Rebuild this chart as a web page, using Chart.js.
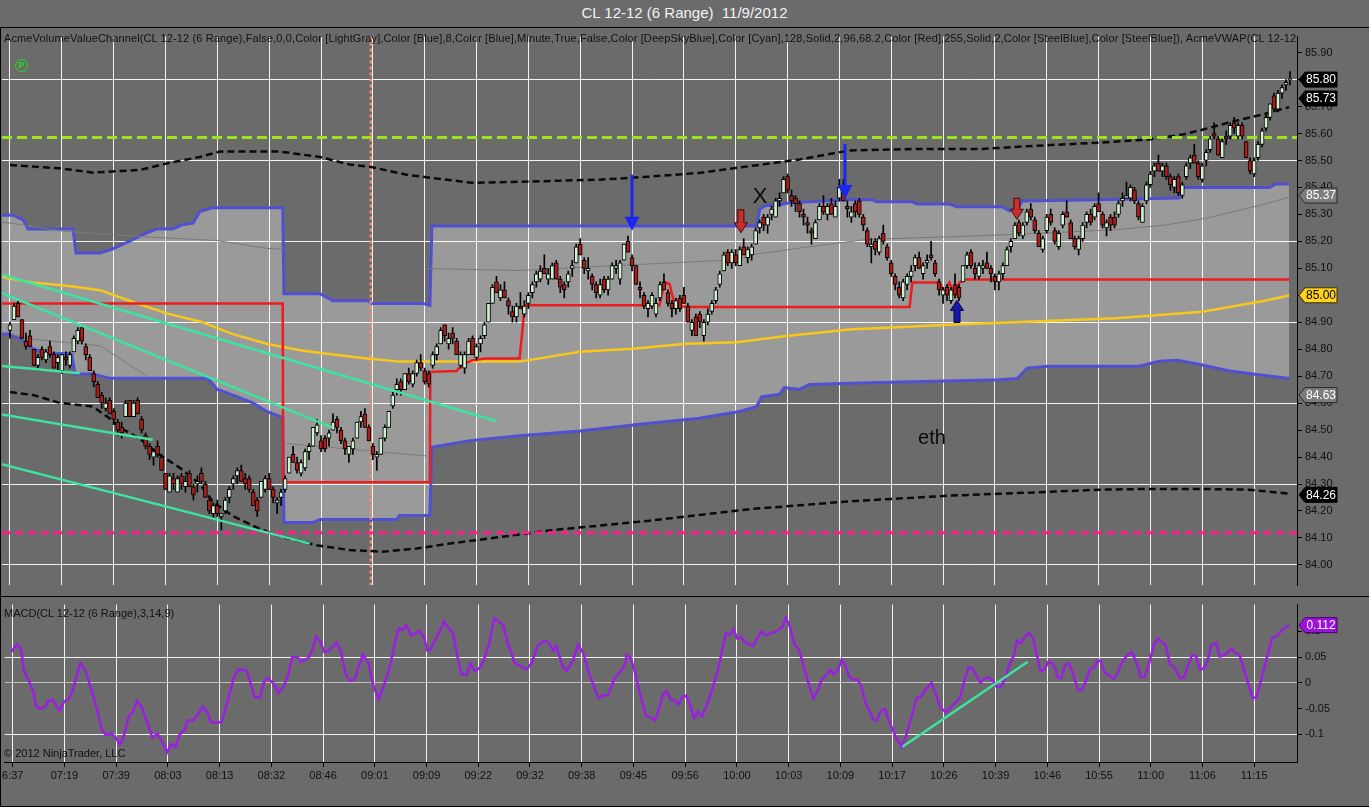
<!DOCTYPE html>
<html>
<head>
<meta charset="utf-8">
<script src="https://cdn.jsdelivr.net/npm/chart.js@4.4.0/dist/chart.umd.min.js"></script>
<style>
  html, body { margin: 0; padding: 0; background: #6b6b6b; overflow: hidden; }
  #wrap { position: relative; width: 1369px; height: 807px; background: #6b6b6b; font-family: 'Liberation Sans', Arial, sans-serif; }
  #title { position: absolute; left: 0; top: 4px; width: 1369px; text-align: center; color: #f2f2f2; font-size: 15px; line-height: 18px; }
  #priceCanvas { position: absolute; left: 0; top: 27px; }
  #macdCanvas { position: absolute; left: 0; top: 595px; }
  .lbl { position: absolute; left: 4px; color: #111; font-size: 11px; line-height: 14px; white-space: nowrap; overflow: hidden; }
  #pIcon { position: absolute; left: 15px; top: 59px; width: 11px; height: 11px; border: 1.5px solid #19e619; border-radius: 50%;
           color: #19e619; font-size: 9px; font-weight: bold; line-height: 11px; text-align: center; }
</style>
</head>
<body>
<div id="wrap">
  <div id="title">CL 12-12 (6 Range)&nbsp; 11/9/2012</div>
  <canvas id="priceCanvas" width="1369" height="568" style="width:1369px;height:568px"></canvas>
  <canvas id="macdCanvas" width="1369" height="212" style="width:1369px;height:212px"></canvas>
  <div class="lbl" style="top:31px;width:1292px;letter-spacing:0.12px">AcmeVolumeValueChannel(CL 12-12 (6 Range),False,0,0,Color [LightGray],Color [Blue],8,Color [Blue],Minute,True,False,Color [DeepSkyBlue],Color [Cyan],128,Solid,2,96,68.2,Color [Red],255,Solid,2,Color [SteelBlue],Color [SteelBlue]), AcmeVWAP(CL 12-12 (6 Range))</div>
  <div id="pIcon">P</div>
  <div class="lbl" style="top:606px">MACD(CL 12-12 (6 Range),3,14,9)</div>
  <div class="lbl" style="top:746px">© 2012 NinjaTrader, LLC</div>
</div>
<script>
// time axis labels, one every 13 range bars
const timeLabels = ['6:37','07:19','07:39','08:03','08:13','08:32','08:46','09:01','09:09','09:22','09:32','09:38','09:45',
                    '09:56','10:00','10:03','10:09','10:17','10:26','10:39','10:46','10:55','11:00','11:06','11:15'];
const BARS_PER_LABEL = 13;
const priceTicks = [84.0,84.1,84.2,84.3,84.4,84.5,84.6,84.7,84.8,84.9,85.0,85.1,85.2,85.3,85.4,85.5,85.6,85.7,85.8,85.9];
const priceGrid = [84.0,84.3,84.6,84.9,85.2,85.5,85.8];
const macdTicks = [-0.1,-0.05,0,0.05,0.1];
const macdGrid = [-0.1,0.05];

// range bars (6 ticks), one row per time label
const opens = [
  84.87,84.91,84.97,84.91,84.83,84.85,84.80,84.74,84.80,84.76,84.81,84.78,84.75,
  84.72,84.77,84.74,84.79,84.83,84.88,84.81,84.77,84.71,84.67,84.63,84.58,84.61,
  84.57,84.53,84.51,84.55,84.61,84.55,84.61,84.54,84.48,84.44,84.40,84.44,84.40,
  84.34,84.27,84.32,84.27,84.33,84.29,84.34,84.29,84.30,84.34,84.30,84.24,84.19,
  84.22,84.18,84.20,84.25,84.30,84.33,84.35,84.32,84.32,84.27,84.24,84.25,84.28,
  84.32,84.28,84.23,84.25,84.28,84.34,84.41,84.38,84.34,84.36,84.42,84.44,84.49,
  84.46,84.47,84.47,84.50,84.54,84.50,84.46,84.41,84.43,84.47,84.53,84.56,84.51,
  84.44,84.40,84.41,84.47,84.51,84.59,84.65,84.68,84.65,84.71,84.67,84.71,84.75,
  84.72,84.71,84.74,84.78,84.82,84.89,84.82,84.86,84.83,84.74,84.73,84.78,84.84,
  84.77,84.82,84.85,84.90,84.97,85.05,84.99,85.02,84.98,84.94,84.92,84.96,84.93,
  84.97,85.01,85.05,85.06,85.10,85.06,85.06,85.12,85.06,85.04,85.05,85.10,85.12,
  85.19,85.13,85.09,85.07,85.04,85.00,85.06,85.02,85.06,85.10,85.06,85.13,85.20,
  85.14,85.11,85.03,85.00,84.95,84.96,84.93,84.99,85.05,85.01,84.97,84.95,84.99,
  85.00,84.96,84.87,84.92,84.93,84.85,84.90,84.94,84.98,85.04,85.09,85.16,85.12,
  85.15,85.11,85.18,85.14,85.15,85.19,85.25,85.29,85.26,85.30,85.29,85.35,85.38,
  85.44,85.37,85.36,85.34,85.30,85.27,85.24,85.21,85.28,85.33,85.30,85.34,85.29,
  85.36,85.40,85.33,85.29,85.34,85.35,85.29,85.24,85.18,85.20,85.16,85.23,85.18,
  85.12,85.07,85.03,84.99,85.04,85.07,85.11,85.14,85.08,85.12,85.15,85.12,85.05,
  85.00,85.03,84.98,85.04,85.03,85.05,85.11,85.16,85.10,85.07,85.10,85.12,85.10,
  85.07,85.05,85.08,85.11,85.18,85.21,85.27,85.22,85.27,85.32,85.28,85.23,85.17,
  85.24,85.30,85.24,85.18,85.26,85.31,85.27,85.21,85.17,85.21,85.27,85.30,85.29,
  85.34,85.30,85.25,85.29,85.29,85.30,85.35,85.36,85.36,85.39,85.34,85.27,85.35,
  85.41,85.46,85.49,85.46,85.48,85.44,85.40,85.44,85.37,85.44,85.49,85.52,85.49,
  85.43,85.50,85.54,85.60,85.58,85.51,85.59,85.59,85.64,85.59,85.63,85.57,85.50,
  85.45,85.51,85.56,85.62,85.66,85.74,85.69,85.75,85.78,85.80
];
const highs = [
  84.90,84.97,84.98,84.91,84.86,84.87,84.80,84.78,84.81,84.80,84.83,84.79,84.78,
  84.78,84.79,84.79,84.85,84.88,84.88,84.82,84.78,84.72,84.68,84.64,84.62,84.62,
  84.58,84.54,84.53,84.61,84.61,84.61,84.62,84.55,84.49,84.45,84.43,84.46,84.41,
  84.34,84.34,84.34,84.33,84.34,84.33,84.35,84.30,84.33,84.36,84.31,84.25,84.23,
  84.24,84.19,84.25,84.29,84.33,84.36,84.37,84.34,84.33,84.28,84.25,84.31,84.33,
  84.34,84.29,84.25,84.28,84.33,84.40,84.44,84.40,84.39,84.43,84.45,84.51,84.54,
  84.48,84.48,84.50,84.56,84.55,84.51,84.47,84.44,84.47,84.53,84.57,84.58,84.52,
  84.45,84.42,84.47,84.52,84.57,84.64,84.69,84.69,84.71,84.73,84.72,84.76,84.78,
  84.73,84.72,84.79,84.82,84.88,84.89,84.86,84.88,84.84,84.79,84.79,84.84,84.85,
  84.82,84.85,84.90,84.97,85.04,85.07,85.04,85.05,84.99,84.96,84.97,85.01,84.98,
  85.01,85.05,85.09,85.11,85.15,85.10,85.12,85.13,85.07,85.05,85.09,85.13,85.19,
  85.21,85.14,85.14,85.08,85.05,85.06,85.07,85.07,85.12,85.13,85.13,85.19,85.22,
  85.15,85.11,85.05,85.01,84.98,85.01,84.99,85.05,85.08,85.02,84.98,84.99,85.00,
  85.03,84.97,84.91,84.93,84.94,84.91,84.95,84.98,85.03,85.09,85.16,85.17,85.17,
  85.17,85.18,85.21,85.18,85.19,85.25,85.28,85.30,85.30,85.33,85.36,85.38,85.44,
  85.45,85.39,85.37,85.35,85.32,85.29,85.25,85.28,85.34,85.37,85.34,85.36,85.35,
  85.43,85.43,85.35,85.33,85.35,85.36,85.30,85.25,85.21,85.21,85.22,85.26,85.19,
  85.13,85.08,85.05,85.06,85.08,85.11,85.15,85.16,85.12,85.15,85.20,85.13,85.06,
  85.03,85.04,85.03,85.08,85.04,85.11,85.16,85.17,85.12,85.12,85.13,85.16,85.11,
  85.08,85.09,85.12,85.18,85.21,85.27,85.28,85.27,85.32,85.34,85.29,85.24,85.22,
  85.30,85.32,85.25,85.24,85.31,85.35,85.28,85.22,85.22,85.27,85.31,85.32,85.34,
  85.38,85.31,85.28,85.30,85.31,85.35,85.38,85.42,85.41,85.40,85.35,85.34,85.42,
  85.46,85.49,85.52,85.49,85.49,85.45,85.44,85.45,85.42,85.49,85.52,85.56,85.50,
  85.49,85.54,85.59,85.64,85.59,85.58,85.61,85.64,85.66,85.64,85.64,85.57,85.51,
  85.51,85.57,85.62,85.67,85.71,85.75,85.76,85.78,85.80,85.83
];
const lows = [
  84.84,84.91,84.92,84.84,84.80,84.81,84.74,84.72,84.76,84.75,84.77,84.73,84.72,
  84.71,84.74,84.73,84.79,84.82,84.82,84.76,84.72,84.66,84.62,84.58,84.57,84.56,
  84.52,84.48,84.47,84.55,84.55,84.55,84.56,84.49,84.43,84.39,84.37,84.40,84.35,
  84.28,84.27,84.28,84.27,84.28,84.27,84.29,84.24,84.27,84.30,84.25,84.19,84.17,
  84.18,84.13,84.19,84.23,84.28,84.30,84.31,84.28,84.27,84.22,84.18,84.25,84.27,
  84.28,84.23,84.19,84.22,84.27,84.34,84.38,84.34,84.33,84.35,84.39,84.44,84.48,
  84.42,84.42,84.44,84.50,84.49,84.45,84.41,84.38,84.41,84.47,84.51,84.51,84.46,
  84.39,84.35,84.41,84.46,84.51,84.58,84.63,84.63,84.65,84.67,84.66,84.70,84.72,
  84.67,84.66,84.73,84.76,84.82,84.83,84.80,84.82,84.78,84.73,84.71,84.78,84.78,
  84.76,84.79,84.84,84.90,84.97,85.01,84.98,84.99,84.93,84.90,84.90,84.95,84.92,
  84.95,84.99,85.03,85.05,85.08,85.04,85.06,85.06,85.01,84.99,85.03,85.07,85.12,
  85.15,85.08,85.06,85.02,84.99,84.99,85.01,85.00,85.06,85.08,85.04,85.13,85.16,
  85.09,85.04,84.99,84.95,84.92,84.95,84.92,84.98,85.02,84.96,84.92,84.93,84.94,
  84.97,84.90,84.85,84.85,84.88,84.83,84.89,84.93,84.97,85.03,85.09,85.11,85.10,
  85.11,85.11,85.15,85.12,85.13,85.19,85.23,85.24,85.23,85.28,85.29,85.33,85.38,
  85.38,85.33,85.31,85.29,85.26,85.23,85.19,85.21,85.28,85.30,85.28,85.30,85.29,
  85.35,85.35,85.29,85.27,85.29,85.29,85.24,85.18,85.12,85.15,85.15,85.19,85.13,
  85.07,85.02,84.99,84.98,85.02,85.05,85.09,85.10,85.06,85.10,85.13,85.07,85.00,
  84.97,84.98,84.97,84.99,84.98,85.05,85.10,85.10,85.06,85.06,85.08,85.10,85.05,
  85.02,85.02,85.06,85.11,85.16,85.21,85.22,85.21,85.26,85.28,85.23,85.18,85.16,
  85.23,85.26,85.19,85.17,85.25,85.29,85.21,85.17,85.15,85.20,85.25,85.26,85.28,
  85.31,85.25,85.22,85.24,85.25,85.29,85.33,85.36,85.35,85.34,85.28,85.27,85.34,
  85.40,85.44,85.46,85.44,85.43,85.39,85.38,85.37,85.36,85.43,85.47,85.49,85.43,
  85.42,85.48,85.53,85.58,85.52,85.51,85.56,85.58,85.60,85.58,85.58,85.51,85.45,
  85.44,85.50,85.55,85.61,85.65,85.68,85.68,85.73,85.76,85.78
];
const closes = [
  84.89,84.96,84.92,84.84,84.81,84.81,84.74,84.77,84.77,84.79,84.78,84.73,84.77,
  84.78,84.76,84.78,84.84,84.87,84.83,84.78,84.72,84.68,84.62,84.60,84.60,84.56,
  84.54,84.50,84.49,84.60,84.55,84.60,84.56,84.50,84.44,84.41,84.42,84.41,84.35,
  84.28,84.33,84.30,84.32,84.30,84.31,84.29,84.26,84.31,84.31,84.25,84.20,84.22,
  84.19,84.19,84.24,84.28,84.32,84.35,84.31,84.30,84.28,84.22,84.20,84.31,84.32,
  84.28,84.25,84.24,84.27,84.32,84.40,84.38,84.35,84.38,84.42,84.44,84.51,84.52,
  84.43,84.43,84.49,84.53,84.51,84.46,84.43,84.44,84.46,84.53,84.55,84.51,84.46,
  84.41,84.41,84.47,84.51,84.57,84.63,84.67,84.65,84.71,84.68,84.71,84.75,84.73,
  84.68,84.67,84.78,84.81,84.87,84.85,84.84,84.84,84.78,84.78,84.78,84.83,84.78,
  84.81,84.84,84.89,84.97,85.03,85.01,85.02,84.99,84.96,84.92,84.96,84.95,84.96,
  85.00,85.04,85.08,85.09,85.08,85.08,85.11,85.06,85.03,85.02,85.08,85.11,85.18,
  85.15,85.10,85.10,85.04,85.01,85.04,85.02,85.06,85.11,85.11,85.12,85.19,85.16,
  85.11,85.04,85.02,84.96,84.97,85.00,84.97,85.04,85.02,84.97,84.95,84.98,84.95,
  84.97,84.90,84.90,84.85,84.90,84.90,84.93,84.97,85.02,85.08,85.15,85.12,85.16,
  85.12,85.17,85.15,85.17,85.18,85.24,85.27,85.26,85.29,85.32,85.35,85.36,85.43,
  85.39,85.35,85.34,85.31,85.29,85.26,85.23,85.27,85.33,85.31,85.33,85.30,85.33,
  85.40,85.35,85.32,85.31,85.31,85.30,85.26,85.19,85.19,85.17,85.21,85.20,85.14,
  85.08,85.04,85.00,85.05,85.07,85.09,85.14,85.10,85.11,85.13,85.14,85.08,85.02,
  85.02,85.00,85.02,85.00,84.99,85.11,85.15,85.11,85.08,85.11,85.11,85.10,85.08,
  85.05,85.08,85.11,85.17,85.20,85.26,85.23,85.26,85.31,85.29,85.24,85.18,85.21,
  85.29,85.27,85.20,85.23,85.30,85.29,85.21,85.18,85.21,85.26,85.30,85.27,85.33,
  85.31,85.26,85.27,85.26,85.26,85.34,85.36,85.37,85.40,85.35,85.29,85.33,85.41,
  85.45,85.48,85.46,85.48,85.44,85.41,85.43,85.38,85.41,85.48,85.51,85.49,85.44,
  85.48,85.53,85.58,85.59,85.52,85.57,85.58,85.63,85.62,85.63,85.59,85.51,85.46,
  85.50,85.56,85.61,85.66,85.71,85.69,85.75,85.77,85.79,85.80
];

// indicator lines as [bar index, price]
const vahLine = [[-2.5,85.297],[0.75,85.297],[3.26,85.280],[4.51,85.246],[15.8,85.246],[16.55,85.157],[22.6,85.157],[25.8,85.172],
  [29.3,85.196],[31.8,85.214],[34.4,85.232],[36.9,85.246],[40.9,85.246],[43.1,85.262],[45.9,85.268],[47.6,85.311],[50.9,85.325],
  [68.4,85.325],[68.7,85.006],[77.7,85.006],[81.0,84.980],[89.5,84.980],[91.0,84.970],[103.5,84.970],[105.3,84.963],[105.8,85.257],
  [187.3,85.257],[188.0,85.318],[189.3,85.332],[193.0,85.336],[195.5,85.343],[210.5,85.354],[216.3,85.354],[217.3,85.347],
  [226.3,85.347],[227.3,85.339],[235.6,85.339],[237.3,85.328],[248.9,85.328],[250.6,85.314],[252.4,85.314],[253.9,85.350],
  [273.2,85.354],[293.2,85.361],[294.0,85.400],[315.8,85.400],[317.5,85.413],[320.8,85.413]];
const valLine = [[-2.5,84.856],[-0.5,84.856],[2.5,84.841],[5.8,84.802],[9.3,84.784],[14.3,84.784],[15.5,84.780],[16.3,84.708],
  [20.8,84.708],[22.6,84.701],[25.1,84.692],[49.4,84.692],[50.1,84.684],[51.9,84.652],[55.9,84.630],[60.9,84.601],[64.4,84.569],
  [67.7,84.551],[68.4,84.547],[68.7,84.157],[75.9,84.157],[77.7,84.168],[97.0,84.168],[97.7,84.183],[105.3,84.183],[105.8,84.436],
  [115.3,84.461],[127.8,84.479],[142.9,84.497],[157.9,84.522],[172.9,84.544],[183.0,84.569],[187.2,84.587],[188.5,84.623],
  [193.0,84.633],[194.2,84.658],[198.0,84.651],[200.5,84.669],[215.5,84.676],[248.1,84.687],[252.6,84.691],[255.1,84.730],
  [260.2,84.737],[283.2,84.737],[288.2,84.755],[292.7,84.759],[298.2,84.744],[305.8,84.719],[313.3,84.705],[320.8,84.691]];
const pocLine = [[-2.5,84.970],[68.4,84.970],[68.5,84.307],[105.3,84.307],[105.4,84.716],[112.0,84.719],[113.5,84.744],[116.0,84.759],
  [119.5,84.766],[127.8,84.766],[129.1,84.963],[162.9,84.963],[164.2,85.049],[165.4,85.042],[166.7,84.963],[169.7,84.957],
  [225.6,84.957],[226.3,85.047],[233.1,85.047],[234.3,85.010],[235.6,85.047],[236.8,85.006],[238.1,85.047],[239.3,85.059],[320.8,85.059]];
const vwapLine = [[-2.5,85.071],[-0.5,85.063],[5.8,85.047],[14.3,85.035],[22.6,85.019],[30.8,84.975],[39.3,84.933],[47.6,84.903],
  [55.9,84.856],[64.4,84.820],[72.7,84.796],[81.0,84.780],[89.5,84.766],[97.7,84.754],[127.8,84.754],[142.9,84.791],[156.1,84.802],
  [169.7,84.820],[182.2,84.826],[194.7,84.849],[210.5,84.873],[235.6,84.891],[277.4,84.915],[299.0,84.939],[315.0,84.981],[320.8,84.999]];
const upperBand = [[0,85.483],[12.5,85.471],[20.8,85.455],[32.6,85.465],[39.3,85.489],[47.6,85.513],[52.6,85.533],[67.7,85.533],
  [77.7,85.513],[85.2,85.485],[90.2,85.477],[99.5,85.447],[106.0,85.435],[116.0,85.417],[127.8,85.421],[147.9,85.429],[160.4,85.440],
  [172.9,85.454],[185.5,85.479],[198.0,85.504],[210.5,85.537],[227.3,85.543],[243.9,85.543],[256.4,85.554],[273.2,85.566],
  [285.7,85.578],[294.0,85.596],[299.0,85.614],[306.5,85.644],[315.0,85.674],[320.8,85.698]];
const lowerBand = [[0,84.641],[5.8,84.630],[12.5,84.601],[20.8,84.587],[24.3,84.551],[27.6,84.509],[32.6,84.467],[37.6,84.408],
  [42.6,84.360],[47.6,84.300],[50.9,84.234],[55.9,84.181],[62.7,84.133],[68.4,84.103],[76.9,84.073],[85.2,84.055],[93.5,84.049],
  [102.0,84.061],[110.3,84.079],[122.8,84.103],[135.3,84.128],[147.9,84.146],[160.4,84.164],[172.9,84.185],[185.5,84.207],
  [198.0,84.221],[210.5,84.236],[223.0,84.246],[235.6,84.257],[248.1,84.264],[260.7,84.271],[273.2,84.279],[285.7,84.282],
  [298.2,84.282],[310.8,84.279],[320.8,84.264]];
const thinUpper = [[-2.5,85.271],[0,85.268],[12.5,85.239],[25.1,85.225],[37.6,85.214],[51.9,85.203],[64.4,85.174],[68.4,85.171],
  [86,null],[104.5,85.099],[127.8,85.092],[161.2,85.117],[182.2,85.132],[187.2,85.153],[203.0,85.185],[214.8,85.207],[243.9,85.221],
  [277.4,85.243],[290.0,85.261],[300.0,85.286],[315.0,85.339],[320.8,85.365]];
const thinLower = [[0,84.856],[5.0,84.838],[22.6,84.813],[34.3,84.701],[50,null],[69.4,84.450],[104.5,84.404]];
const trendA = [[-2.5,85.079],[122.1,84.533]];
const trendB = [[-2.5,85.011],[80.9,84.509]];
const trendC = [[-2.5,84.738],[17.5,84.711]];
const trendD = [[-2.5,84.559],[35.8,84.464]];
const trendE = [[-2.5,84.375],[75.2,84.079]];
const greenLevel = 85.585;
const pinkLevel = 84.119;
const sessionMarkIdx = 90.5;

// chart markers
const arrowIdx = [156.0, 209.4, 183.3, 252.5, 237.5];
const arrowTip = [85.239, 85.357, 85.232, 85.282, 84.981];
const arrowDir = [1, 1, 1, 1, -1];
const noteText = ['X', 'eth'];
const noteIdx = [188.1, 231.2];
const notePrice = [85.364, 84.468];
const priceTagValues = [85.80, 85.73, 85.37, 85.00, 84.63, 84.26];

// MACD(3,14,9) as [bar index, value]
const macdLine = [[-0.4,0.060],[1.1,0.075],[2.2,0.063],[2.7,0.026],[4.2,0.001],[5.3,-0.020],[5.8,-0.045],[6.8,-0.050],[7.9,-0.048],
  [8.9,-0.036],[10.0,-0.033],[11.0,-0.045],[11.8,-0.054],[12.9,-0.036],[14.1,-0.032],[15.1,-0.014],[16.2,0.017],[17.0,0.038],
  [18.3,0.023],[19.8,-0.014],[21.4,-0.057],[22.4,-0.091],[23.5,-0.102],[24.7,-0.098],[26.0,-0.107],[26.9,-0.120],[27.8,-0.107],
  [29.2,-0.064],[30.2,-0.057],[31.2,-0.036],[32.3,-0.045],[33.6,-0.073],[35.1,-0.106],[36.4,-0.099],[37.5,-0.113],[38.8,-0.135],
  [39.9,-0.119],[40.9,-0.125],[41.9,-0.101],[43.2,-0.091],[44.0,-0.073],[45.3,-0.073],[46.3,-0.064],[47.7,-0.046],[48.9,-0.057],
  [49.9,-0.077],[51.5,-0.077],[52.5,-0.076],[54.1,-0.033],[55.6,0.011],[56.7,0.026],[58.7,0.024],[59.6,0.004],[60.8,-0.028],
  [62.1,-0.028],[63.1,0.000],[63.9,0.010],[65.5,-0.001],[66.8,-0.020],[68.1,-0.007],[69.3,0.017],[70.2,0.049],[71.4,0.051],
  [72.5,0.041],[74.3,0.048],[75.4,0.066],[76.2,0.090],[77.2,0.082],[78.3,0.060],[79.5,0.063],[81.4,0.078],[82.4,0.063],
  [83.7,0.017],[84.7,0.004],[86.0,0.007],[86.8,0.029],[88.0,0.055],[89.4,0.038],[90.7,-0.007],[92.0,-0.032],[93.0,-0.011],
  [94.6,0.026],[95.9,0.072],[97.0,0.106],[98.0,0.103],[99.0,0.112],[100.1,0.092],[101.3,0.096],[102.2,0.101],[103.4,0.088],
  [104.2,0.063],[105.0,0.065],[106.3,0.085],[107.3,0.100],[108.4,0.119],[109.6,0.106],[110.7,0.094],[111.7,0.054],[112.7,0.017],
  [114.0,0.015],[115.0,0.038],[116.1,0.023],[117.4,0.029],[118.4,0.044],[119.8,0.078],[121.0,0.125],[122.1,0.120],[123.3,0.111],
  [124.4,0.078],[126.2,0.038],[127.8,0.032],[129.1,0.026],[130.4,0.038],[131.9,0.072],[133.5,0.082],[134.7,0.078],[135.8,0.063],
  [136.6,0.071],[138.2,0.032],[139.2,0.023],[140.8,0.044],[142.1,0.074],[143.4,0.057],[144.9,0.017],[147.2,-0.030],[148.2,-0.024],
  [149.6,-0.024],[151.2,0.008],[152.7,0.023],[153.7,0.032],[154.3,0.054],[155.3,0.048],[156.3,0.023],[157.4,-0.014],[159.1,-0.064],
  [160.4,-0.067],[161.4,-0.073],[162.4,-0.051],[163.3,-0.024],[164.3,-0.016],[165.3,-0.032],[166.3,-0.034],[167.3,-0.042],
  [168.3,-0.027],[169.3,-0.025],[170.3,-0.045],[171.3,-0.069],[172.2,-0.056],[173.2,-0.065],[174.2,-0.048],[175.7,-0.014],
  [177.2,0.023],[178.2,0.060],[179.2,0.096],[180.2,0.094],[181.1,0.104],[182.1,0.086],[183.1,0.088],[184.1,0.078],[186.1,0.072],
  [187.1,0.086],[188.1,0.100],[189.4,0.092],[190.5,0.097],[191.5,0.098],[192.5,0.103],[193.5,0.109],[194.3,0.127],[195.3,0.109],
  [196.5,0.075],[197.5,0.066],[198.5,0.041],[199.9,0.002],[201.2,-0.030],[202.2,-0.017],[203.4,0.008],[204.4,0.014],[205.4,0.025],
  [206.4,0.017],[207.4,0.025],[208.3,0.045],[209.3,0.033],[210.3,0.011],[211.3,0.006],[212.3,0.007],[213.3,-0.007],[214.3,-0.039],
  [215.3,-0.054],[216.3,-0.072],[217.2,-0.073],[218.2,-0.054],[219.2,-0.051],[220.2,-0.073],[221.7,-0.101],[223.4,-0.125],
  [224.7,-0.098],[226.2,-0.057],[227.1,-0.030],[228.3,-0.027],[229.3,-0.014],[230.9,0.000],[231.9,-0.020],[233.1,-0.048],
  [234.6,-0.057],[236.0,-0.045],[238.0,-0.030],[239.0,-0.001],[240.2,0.031],[241.2,0.028],[242.2,0.014],[243.2,0.000],[244.1,0.008],
  [245.1,0.011],[246.4,0.004],[247.4,-0.009],[248.4,-0.007],[249.4,0.008],[250.4,0.034],[251.7,0.055],[252.4,0.082],[253.4,0.077],
  [254.3,0.088],[255.3,0.097],[256.3,0.089],[257.3,0.057],[258.3,0.023],[259.3,0.026],[260.3,0.041],[261.6,0.036],[262.6,0.011],
  [263.5,0.009],[264.5,0.035],[265.5,0.038],[266.7,0.011],[267.7,-0.014],[268.7,-0.014],[269.7,0.004],[270.7,0.026],[271.7,0.029],
  [272.6,0.043],[273.4,0.043],[274.4,0.020],[275.6,0.014],[276.6,0.008],[277.6,0.017],[278.6,0.038],[280.1,0.054],[281.3,0.059],
  [282.5,0.038],[283.5,0.011],[284.5,0.012],[285.5,0.035],[286.7,0.072],[287.7,0.086],[289.0,0.078],[289.7,0.074],[290.9,0.035],
  [291.9,0.031],[293.4,0.009],[294.4,0.011],[295.4,0.035],[296.4,0.054],[297.4,0.051],[298.4,0.026],[299.3,0.028],[300.3,0.044],
  [301.3,0.074],[302.5,0.077],[303.3,0.051],[304.3,0.053],[305.3,0.059],[306.3,0.067],[307.3,0.057],[308.3,0.055],[309.2,0.032],
  [310.7,-0.007],[311.6,-0.030],[312.6,-0.028],[313.7,0.004],[314.9,0.041],[315.7,0.063],[316.6,0.088],[317.6,0.090],[318.7,0.100],
  [319.9,0.108],[320.8,0.112]];
const macdTrend = [[223.6,-0.124],[255.1,0.041]];
const macdTagValue = 0.112;

// ---- styling / layout ----
const X_MIN = -2.006, X_MAX = 322.76;
const PRICE_MIN = 83.924, PRICE_MAX = 85.9595;
const MACD_MIN = -0.1537, MACD_MAX = 0.1519;
const AXIS_W = 72;
const GRID = 'rgba(255,255,255,0.92)';
const NONE = 'rgba(0,0,0,0)';
const BLUE = '#5050d2';
const TREND = '#3ee3a2';
const UP = '#d2f0d2', DOWN = '#ad1d1a';
const arrowLook = [
  { fill: '#1b27f0', stroke: null, shaft: 3, head: 14, headW: 15, len: 56 },
  { fill: '#1b27f0', stroke: null, shaft: 3, head: 14, headW: 15, len: 55 },
  { fill: '#c2312b', stroke: '#4a0808', shaft: 6, head: 10, headW: 13, len: 23 },
  { fill: '#c2312b', stroke: '#4a0808', shaft: 6, head: 10, headW: 13, len: 21 },
  { fill: '#1717a6', stroke: '#000040', shaft: 6, head: 10, headW: 13, len: 22 }
];
const noteFont = ['22px "Liberation Sans", Arial', '20px "Liberation Sans", Arial'];
const tagLook = [
  { bg: '#000', fg: '#fff', edge: '#000' },
  { bg: '#000', fg: '#fff', edge: '#000' },
  { bg: '#7c7c7c', fg: '#fff', edge: '#2a2a2a' },
  { bg: '#ffd21a', fg: '#000', edge: '#3a3000' },
  { bg: '#7c7c7c', fg: '#fff', edge: '#2a2a2a' },
  { bg: '#000', fg: '#fff', edge: '#000' }
];

Chart.defaults.font.family = "'Liberation Sans', Arial, sans-serif";
Chart.defaults.font.size = 11;
Chart.defaults.color = '#111';

const labelIdx = timeLabels.map((t, k) => k * BARS_PER_LABEL);
const near = (list, v) => list.some(g => Math.abs(g - v) < 1e-6);

function pts(arr) {
  return arr.map(p => ({ x: p[0], y: p[1] }));
}

function line(arr, color, width, order, dash) {
  return {
    type: 'line', data: pts(arr), borderColor: color, borderWidth: width, borderDash: dash || [],
    pointRadius: 0, tension: 0, fill: false, spanGaps: false, order: order
  };
}

function drawArrow(ctx, px, tipY, dir, look) {
  const s = look.shaft / 2, hw = look.headW / 2;
  const b = tipY - dir * look.head;
  const t = tipY - dir * look.len;
  ctx.beginPath();
  ctx.moveTo(px - s, t);
  ctx.lineTo(px + s, t);
  ctx.lineTo(px + s, b);
  ctx.lineTo(px + hw, b);
  ctx.lineTo(px, tipY);
  ctx.lineTo(px - hw, b);
  ctx.lineTo(px - s, b);
  ctx.closePath();
  ctx.fillStyle = look.fill;
  ctx.fill();
  if (look.stroke) {
    ctx.strokeStyle = look.stroke;
    ctx.lineWidth = 1;
    ctx.stroke();
  }
}

function drawTag(ctx, x0, yc, text, look) {
  const h = 15, n = 6, w = 32;
  ctx.beginPath();
  ctx.moveTo(x0, yc);
  ctx.lineTo(x0 + n, yc - h / 2);
  ctx.lineTo(x0 + n + w, yc - h / 2);
  ctx.lineTo(x0 + n + w, yc + h / 2);
  ctx.lineTo(x0 + n, yc + h / 2);
  ctx.closePath();
  ctx.fillStyle = look.bg;
  ctx.fill();
  ctx.strokeStyle = look.edge;
  ctx.lineWidth = 1;
  ctx.stroke();
  ctx.fillStyle = look.fg;
  ctx.font = '12px "Liberation Sans", Arial';
  ctx.textAlign = 'center';
  ctx.textBaseline = 'middle';
  ctx.fillText(text, x0 + n + w / 2, yc + 0.5);
}

// price panel overlay: arrows, notes, last-value tags and frame
const priceOverlay = {
  id: 'priceOverlay',
  afterDraw(chart) {
    const { ctx, chartArea, scales } = chart;
    const x = scales.x, y = scales.y;
    ctx.save();
    arrowIdx.forEach((idx, k) => {
      drawArrow(ctx, x.getPixelForValue(idx), y.getPixelForValue(arrowTip[k]), arrowDir[k], arrowLook[k]);
    });
    ctx.fillStyle = '#0a0a0a';
    ctx.textAlign = 'center';
    ctx.textBaseline = 'middle';
    noteText.forEach((t, k) => {
      ctx.font = noteFont[k];
      ctx.fillText(t, x.getPixelForValue(noteIdx[k]), y.getPixelForValue(notePrice[k]));
    });
    priceTagValues.forEach((v, k) => {
      drawTag(ctx, chartArea.right + 2, y.getPixelForValue(v), v.toFixed(2), tagLook[k]);
    });
    ctx.fillStyle = '#000';
    ctx.fillRect(0, 0, chart.width, 1);
    ctx.fillRect(0, 0, 1, chart.height);
    ctx.restore();
  }
};

const macdOverlay = {
  id: 'macdOverlay',
  afterDraw(chart) {
    const { ctx, chartArea, scales } = chart;
    ctx.save();
    drawTag(ctx, chartArea.right + 2, scales.y.getPixelForValue(macdTagValue), String(macdTagValue),
            { bg: '#9b12dc', fg: '#fff', edge: '#4a0070' });
    ctx.fillStyle = '#000';
    ctx.fillRect(0, 1, chart.width, 1);
    ctx.fillRect(0, 0, 1, chart.height);
    ctx.fillRect(0, chart.height - 1, chart.width, 1);
    ctx.restore();
  }
};

const candleIdx = opens.map((o, i) => i);
const wickData = candleIdx.map(i => ({ x: i, y: [lows[i], highs[i]] }));
const bodyData = candleIdx.map(i => ({ x: i, y: [Math.min(opens[i], closes[i]), Math.max(opens[i], closes[i])] }));
const bodyColors = candleIdx.map(i => closes[i] >= opens[i] ? UP : DOWN);

const valueArea = line(vahLine, BLUE, 3, 100);
valueArea.fill = { target: '+1' };
valueArea.backgroundColor = 'rgba(255,255,255,0.32)';

new Chart(document.getElementById('priceCanvas'), {
  type: 'line',
  data: {
    datasets: [
      valueArea,
      line(valLine, BLUE, 3, 99),
      line(thinUpper, '#7b7b7b', 1, 95),
      line(thinLower, '#7b7b7b', 1, 95),
      line(upperBand, '#0a0a0a', 2.5, 90, [7, 4]),
      line(lowerBand, '#0a0a0a', 2.5, 90, [7, 4]),
      line([[X_MIN, greenLevel], [X_MAX, greenLevel]], '#9be31e', 3, 85, [10, 5]),
      line([[X_MIN, pinkLevel], [X_MAX, pinkLevel]], '#ff1e8c', 3, 85, [8, 5]),
      line([[sessionMarkIdx, PRICE_MIN], [sessionMarkIdx, PRICE_MAX]], '#f39068', 2.5, 84, [3, 3]),
      line(vwapLine, '#f7c81a', 2.5, 80),
      line(pocLine, '#ee1c1c', 2.5, 79),
      { type: 'bar', data: wickData, backgroundColor: '#000', borderWidth: 0, barThickness: 1, grouped: false, order: 20 },
      { type: 'bar', data: bodyData, backgroundColor: bodyColors, borderColor: '#000', borderWidth: 1, borderSkipped: false,
        barThickness: 4, minBarLength: 1, grouped: false, order: 19 },
      line(trendA, TREND, 2.5, 5),
      line(trendB, TREND, 2.5, 5),
      line(trendC, TREND, 2.5, 5),
      line(trendD, TREND, 2.5, 5),
      line(trendE, TREND, 2.5, 5)
    ]
  },
  options: {
    responsive: false, devicePixelRatio: 1, animation: false, events: [],
    layout: { padding: { left: 2, right: 0, top: 0, bottom: 0 }, autoPadding: false },
    plugins: { legend: { display: false }, tooltip: { enabled: false } },
    scales: {
      x: {
        type: 'linear', min: X_MIN, max: X_MAX, offset: false,
        afterBuildTicks: s => { s.ticks = labelIdx.map(v => ({ value: v })); },
        afterFit: s => { s.height = 0; },
        ticks: { display: false },
        grid: { color: GRID, lineWidth: 1, drawTicks: false, offset: false },
        border: { display: false }
      },
      y: {
        type: 'linear', position: 'right', min: PRICE_MIN, max: PRICE_MAX,
        afterBuildTicks: s => { s.ticks = priceTicks.map(v => ({ value: v })); },
        afterFit: s => { s.width = AXIS_W; },
        ticks: { callback: v => v.toFixed(2), color: '#111', padding: 3, autoSkip: false },
        grid: { color: c => (c.tick && near(priceGrid, c.tick.value)) ? GRID : NONE, tickColor: '#000', tickLength: 5 },
        border: { color: '#000', width: 1 }
      }
    }
  },
  plugins: [priceOverlay]
});

new Chart(document.getElementById('macdCanvas'), {
  type: 'line',
  data: {
    datasets: [
      line(macdLine, '#9b1fe0', 2.5, 10),
      line(macdTrend, TREND, 2.5, 5)
    ]
  },
  options: {
    responsive: false, devicePixelRatio: 1, animation: false, events: [],
    layout: { padding: { left: 2, right: 0, top: 2, bottom: 0 }, autoPadding: false },
    plugins: { legend: { display: false }, tooltip: { enabled: false } },
    scales: {
      x: {
        type: 'linear', min: X_MIN, max: X_MAX, offset: false,
        afterBuildTicks: s => { s.ticks = labelIdx.map(v => ({ value: v })); },
        afterFit: s => { s.height = 45; },
        ticks: { callback: (v, i) => timeLabels[i], color: '#111', maxRotation: 0, autoSkip: false, padding: 2 },
        grid: { color: GRID, lineWidth: 1, tickColor: '#000', tickLength: 5, offset: false },
        border: { color: '#000', width: 1 }
      },
      y: {
        type: 'linear', position: 'right', min: MACD_MIN, max: MACD_MAX,
        afterBuildTicks: s => { s.ticks = macdTicks.map(v => ({ value: v })); },
        afterFit: s => { s.width = AXIS_W; },
        ticks: { callback: v => String(+v.toFixed(2)), color: '#111', padding: 3, autoSkip: false },
        grid: {
          color: c => {
            if (!c.tick) return NONE;
            if (Math.abs(c.tick.value) < 1e-9) return '#c2c2c2';
            return near(macdGrid, c.tick.value) ? GRID : NONE;
          },
          tickColor: '#000', tickLength: 5
        },
        border: { color: '#000', width: 1 }
      }
    }
  },
  plugins: [macdOverlay]
});
</script>
</body>
</html>
